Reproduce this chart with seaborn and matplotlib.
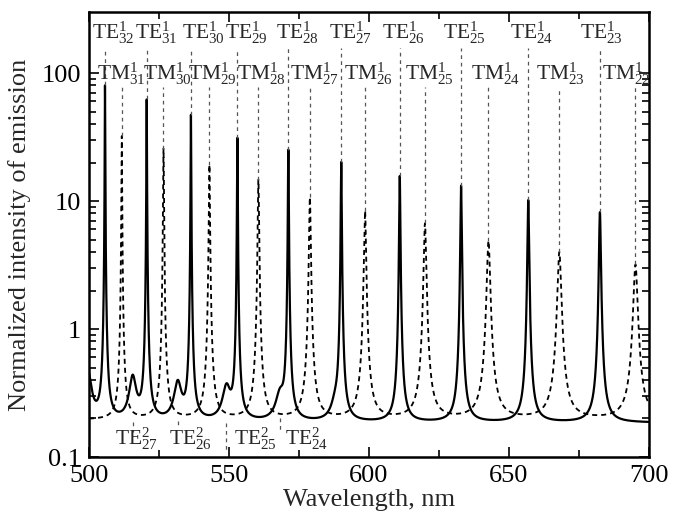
import numpy as np
import pandas as pd
import seaborn as sns
import matplotlib.pyplot as plt
from matplotlib.ticker import FixedLocator, FixedFormatter, MultipleLocator, NullFormatter

# first-order TE resonances (solid line): wavelength, peak height, half width
te1_m = [32, 31, 30, 29, 28, 27, 26, 25, 24, 23]
te1_pos = [505.7, 520.6, 536.4, 553.0, 571.2, 590.1, 611.0, 632.9, 656.9, 682.5]
te1_peak = [80, 62, 47, 31, 25, 20, 15.5, 13, 10, 8]
te1_width = [0.07, 0.08, 0.09, 0.11, 0.13, 0.15, 0.18, 0.21, 0.25, 0.3]

# first-order TM resonances (dashed line)
tm1_m = [31, 30, 29, 28, 27, 26, 25, 24, 23, 22]
tm1_pos = [511.7, 526.6, 543.0, 560.5, 578.9, 598.6, 620.0, 642.7, 668.0, 695.2]
tm1_peak = [32, 25.5, 19, 14.5, 10.5, 8.2, 6.5, 4.7, 3.8, 3.0]
tm1_width = [0.11, 0.14, 0.18, 0.22, 0.28, 0.34, 0.42, 0.55, 0.62, 0.7]

# second-order TE bumps on the solid line
te2_m = [28, 27, 26, 25, 24, 23]
te2_pos = [499.6, 515.6, 531.7, 549.1, 568.2, 588.0]
te2_peak = [0.28, 0.23, 0.19, 0.16, 0.11, 0.06]
te2_width = [1.3, 1.3, 1.4, 1.5, 1.6, 1.6]
te2_shown = [27, 26, 25, 24]

te_base = 0.185
tm_base = 0.195


def lorentz(x, x0, h, w):
    return h / (1 + ((x - x0) / w) ** 2)


wl = np.linspace(500, 700, 40001)
te = np.full_like(wl, te_base)
for p, h, w in zip(te1_pos, te1_peak, te1_width):
    te += lorentz(wl, p, h, w)
for p, h, w in zip(te2_pos, te2_peak, te2_width):
    te += lorentz(wl, p, h, w)
tm = np.full_like(wl, tm_base)
for p, h, w in zip(tm1_pos, tm1_peak, tm1_width):
    tm += lorentz(wl, p, h, w)

df = pd.DataFrame({"wl": wl, "te": te, "tm": tm})

sns.set_theme(style="ticks")
plt.rcParams["font.family"] = ["Liberation Serif", "DejaVu Serif"]
plt.rcParams["mathtext.fontset"] = "custom"
plt.rcParams["mathtext.rm"] = "Liberation Serif"
plt.rcParams["mathtext.it"] = "Liberation Serif"
plt.rcParams["mathtext.default"] = "rm"

fig = plt.figure(figsize=(6.77, 5.22), dpi=100)
ax = fig.add_axes([0.1315, 0.1245, 0.827, 0.8525])
ax.set_yscale("log")

sns.lineplot(data=df, x="wl", y="tm", ax=ax, color="black", lw=1.3,
             linestyle=(0, (2.8, 2.2)), estimator=None, sort=False)
sns.lineplot(data=df, x="wl", y="te", ax=ax, color="black", lw=1.6,
             estimator=None, sort=False)

ax.set_xlim(500, 700)
ax.set_ylim(0.1, 300)

mark = dict(color="#555555", lw=0.9, linestyle=(0, (3, 3)))
fs = 15.5
big = 19

# TE^1 labels (top row)
te_dx = [3.0, 3.6, 4.3, 3.2, 3.2, 3.2, 1.4, 1.1, 1.1, 0.4]
for m, p, h, dx in zip(te1_m, te1_pos, te1_peak, te_dx):
    ax.plot([p, p], [h + te_base, 157], **mark)
    ax.text(p + dx, 185, r"TE$^{1}_{%d}$" % m, ha="center", va="baseline", fontsize=fs)

# TM^1 labels (second row)
tm_dx = [-0.2, 1.3, 1.0, 1.0, 1.8, 1.2, 1.6, 2.5, 0.4, -3.4]
for m, p, h, dx in zip(tm1_m, tm1_pos, tm1_peak, tm_dx):
    ax.plot([p, p], [h + tm_base, 78], **mark)
    ax.text(p + dx, 88, r"TM$^{1}_{%d}$" % m, ha="center", va="baseline", fontsize=fs)

# TE^2 labels (bottom)
te2_label_x = [516.8, 536.1, 559.3, 577.9]
te2_mark = [(0.188, 0.157), (0.19, 0.17), (0.185, 0.113), (0.2, 0.157)]
for m, lx, (y0, y1) in zip(te2_shown, te2_label_x, te2_mark):
    p = te2_pos[te2_m.index(m)]
    ax.plot([p, p], [y0, y1], **mark)
    ax.text(lx, 0.124, r"TE$^{2}_{%d}$" % m, ha="center", va="baseline", fontsize=fs)

ax.xaxis.set_major_locator(MultipleLocator(50))
ax.xaxis.set_minor_locator(MultipleLocator(25))
ax.yaxis.set_major_locator(FixedLocator([0.1, 1, 10, 100]))
ax.yaxis.set_major_formatter(FixedFormatter(["0.1", "1", "10", "100"]))
minors = [k * d for d in (0.1, 1, 10) for k in range(2, 10)]
ax.yaxis.set_minor_locator(FixedLocator(minors))
ax.yaxis.set_minor_formatter(NullFormatter())

ax.tick_params(which="both", direction="in", top=True, right=True, width=1.2,
               labelsize=big, colors="black")
ax.tick_params(axis="y", pad=6)
ax.tick_params(axis="x", pad=6)
ax.tick_params(which="major", length=7)
ax.tick_params(which="minor", length=5)
for s in ax.spines.values():
    s.set_linewidth(1.8)
    s.set_color("black")

ax.set_xlabel("Wavelength, nm", fontsize=big, labelpad=1)
ax.set_ylabel("Normalized intensity of emission", fontsize=big, labelpad=7)

fig.savefig("out.png", dpi=100)
